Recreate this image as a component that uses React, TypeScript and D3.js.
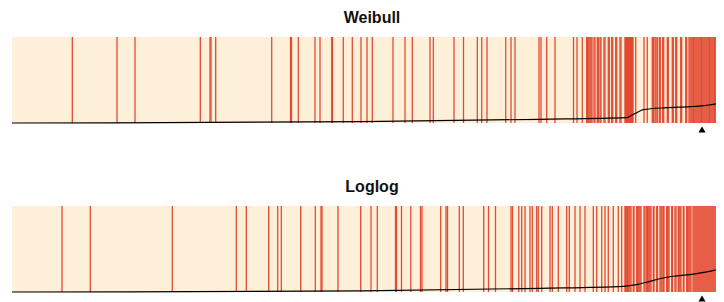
import React from "react";
import * as d3 from "d3";

// x values in days (0..712); curve values as cumulative fraction
const weibullEvents: number[] = [
  60.3, 105, 123, 188.3, 198, 199, 203.7, 259.7, 278.5, 279.5, 286.3, 303, 308, 319.7, 320.5, 331.3, 340.3, 349, 355,
  360.3, 381, 393, 400.3, 418, 421.3, 442, 451.5, 465.3, 469.7, 475, 493.7, 499, 503, 527, 529, 534.7, 543, 561.5, 565,
  570.3, 574.7, 575.5, 576, 577, 578, 579, 580, 582, 583, 585.3, 586.3, 588, 589, 592, 593, 596.3, 597.3, 599.7, 600.7,
  603.7, 604.7, 608, 609, 613, 613.5, 614, 614.5, 615, 615.5, 616, 616.5, 617, 617.5, 618, 618.5, 619, 619.5, 620,
  620.5, 621, 623.7, 632, 635.3, 640.3, 641.5, 643, 644, 645.3, 647.3, 648.3, 650.7, 651.7, 655.3, 656.3, 660.3,
  661.3, 663.7, 664.7, 668.7, 669.7, 673.7, 674.7, 677, 678, 679, 680, 681, 681.5, 682, 683, 684, 685, 686, 687, 688,
  689, 689.5, 690, 691, 692, 693, 694, 695, 696, 697, 697.5, 698, 699, 700, 701, 702, 702.5, 703, 704, 705, 706, 707,
  708, 708.5, 709, 710, 711, 711.5,
];

const loglogEvents: number[] = [
  50, 78.3, 160.3, 224.3, 234.3, 256.7, 265.7, 269.3, 288.7, 303.3, 309, 310, 326, 348.7, 359, 365.3, 383.5, 384.5,
  389.5, 398.8, 408.5, 410, 428.7, 434, 435.5, 447.3, 451.3, 471.7, 476.5, 483.5, 499, 500.5, 506.8, 509.7, 513, 518,
  520.3, 524.7, 526.3, 529.7, 538, 540.3, 546.3, 554.7, 557.3, 563, 568, 573, 581.3, 584.7, 589.7, 593, 596.3, 601.3,
  606.3, 609.7, 613, 613.5, 614, 615, 615.5, 616, 617, 618, 619, 621.3, 622, 624.7, 625.5, 626, 627, 628, 629, 632,
  633, 634.7, 635.5, 636, 637, 638, 639, 641.3, 642, 644.7, 645.5, 648, 649, 650, 651.3, 652, 654.7, 655.5, 656, 657,
  659.7, 660.5, 663, 664, 666.3, 667, 668, 669, 671.3, 672, 674.7, 675.5, 676, 677, 678, 679, 681, 682, 683, 684, 685,
  686, 687, 688, 689, 690, 691, 692, 693, 694, 695, 696, 697, 698, 699, 700, 701, 702, 703, 704, 705, 706, 707, 708,
  709, 710, 711,
];

const weibullCurveX: number[] = [0, 350, 528, 614.7, 619.7, 624.7, 631.3, 654.7, 678, 694.7, 704.7, 712];
const weibullCurveY: number[] = [0, 0.015, 0.043, 0.062, 0.09, 0.12, 0.155, 0.178, 0.19, 0.206, 0.224, 0.252];

const loglogCurveX: number[] = [0, 350, 528, 611.3, 624.7, 638, 651.3, 661.3, 678, 694.7, 712];
const loglogCurveY: number[] = [0, 0.012, 0.043, 0.066, 0.085, 0.124, 0.163, 0.183, 0.201, 0.233, 0.279];

const markerValue = 690;
const titles: string[] = ["Weibull", "Loglog"];

const W = 716;
const panelH = 86;

function Panel({
  top,
  title,
  events,
  cx,
  cy,
}: {
  top: number;
  title: string;
  events: number[];
  cx: number[];
  cy: number[];
}) {
  const x = d3.scaleLinear().domain([0, 712]).range([4, 716]);
  const y = d3.scaleLinear().domain([0, 1]).range([top + panelH, top]);
  const pts: [number, number][] = cx.map((v, i) => [v, cy[i]]);
  const line = d3
    .line<[number, number]>()
    .x((d) => x(d[0]))
    .y((d) => y(d[1]))
    .curve(d3.curveMonotoneX);
  const tri = d3.symbol().type(d3.symbolTriangle).size(22)();
  return (
    <g>
      <text
        x={364}
        y={top - 14}
        textAnchor="middle"
        fontFamily="'Liberation Sans', Arial, sans-serif"
        fontWeight="bold"
        fontSize={16}
        fill="#111"
      >
        {title}
      </text>
      <rect x={x(0)} y={top} width={x(712) - x(0)} height={panelH} fill="#feefd9" />
      {events.map((e, i) => (
        <line
          key={i}
          x1={x(e)}
          x2={x(e)}
          y1={top}
          y2={top + panelH}
          stroke="#e34a33"
          strokeWidth={1.3}
        />
      ))}
      <path d={line(pts) || ""} fill="none" stroke="#000" strokeWidth={1.2} />
      <path d={tri || ""} transform={`translate(${x(markerValue)},${top + panelH + 7.5})`} fill="#000" />
    </g>
  );
}

export default function App() {
  return (
    <svg width={W} height={294} style={{ display: "block", overflow: "hidden" }}>
      <Panel top={29} title={titles[0]} events={weibullEvents} cx={weibullCurveX} cy={weibullCurveY} />
      <Panel top={198} title={titles[1]} events={loglogEvents} cx={loglogCurveX} cy={loglogCurveY} />
    </svg>
  );
}
